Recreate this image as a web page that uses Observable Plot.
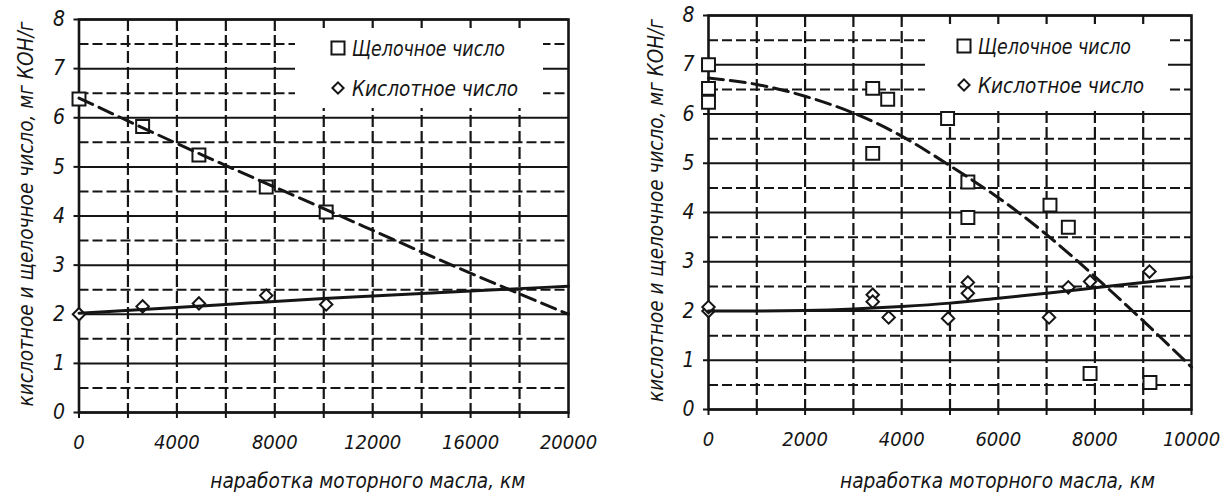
<!DOCTYPE html>
<html>
<head>
<meta charset="utf-8">
<script src="https://cdn.jsdelivr.net/npm/d3@7"></script>
<script src="https://cdn.jsdelivr.net/npm/@observablehq/plot@0.6"></script>
<style>
  html, body { margin: 0; padding: 0; background: #fff; }
  #wrap { position: relative; width: 1232px; height: 499px; overflow: hidden; background: #fff; }
  .panel { position: absolute; top: 0; }
  .legend { position: absolute; }
</style>
</head>
<body>
<div id="wrap"></div>
<script>
// ---------- data ----------
const seriesNames = ["Щелочное число", "Кислотное число"];
const xAxisTitle = "наработка моторного масла, км";
const yAxisTitle = "кислотное и щелочное число, мг КОН/г";

// left panel
const leftX = [0, 2600, 4900, 7650, 10100];
const leftAlkali = [6.38, 5.82, 5.24, 4.59, 4.08];
const leftAcid = [2.0, 2.16, 2.22, 2.38, 2.2];
const leftFitX = [0, 5000, 10000, 15000, 20000];
const leftAlkaliFit = [6.4, 5.25, 4.15, 3.05, 2.0];
const leftAcidFit = [2.02, 2.17, 2.32, 2.45, 2.57];
const leftXTicks = [0, 2000, 4000, 6000, 8000, 10000, 12000, 14000, 16000, 18000, 20000];
const leftXLabels = [0, 4000, 8000, 12000, 16000, 20000];

// right panel
const rightAlkaliX = [0, 0, 0, 3400, 3710, 3400, 4950, 5370, 5370, 7070, 7450, 7900, 9140];
const rightAlkali = [7.0, 6.52, 6.24, 6.52, 6.3, 5.2, 5.91, 4.62, 3.9, 4.15, 3.7, 0.73, 0.55];
const rightAcidX = [0, 0, 3400, 3400, 3730, 4960, 5370, 5370, 7050, 7450, 7900, 9130];
const rightAcid = [2.0, 2.08, 2.33, 2.19, 1.87, 1.85, 2.58, 2.36, 1.87, 2.48, 2.6, 2.8];
const rightFitX = [0, 1000, 2000, 3000, 4000, 5000, 6000, 7000, 8000, 9000, 10000];
const rightAlkaliFit = [6.73, 6.6, 6.36, 6.02, 5.55, 4.95, 4.3, 3.55, 2.7, 1.8, 0.86];
const rightAcidFit = [2.0, 2.0, 2.01, 2.04, 2.09, 2.16, 2.26, 2.36, 2.47, 2.58, 2.69];
const rightXTicks = [0, 1000, 2000, 3000, 4000, 5000, 6000, 7000, 8000, 9000, 10000];
const rightXLabels = [0, 2000, 4000, 6000, 8000, 10000];

const yIntTicks = [0, 1, 2, 3, 4, 5, 6, 7, 8];
const yHalfTicks = [0.5, 1.5, 2.5, 3.5, 4.5, 5.5, 6.5, 7.5];

// ---------- style ----------
const FONT = '"Liberation Sans Narrow", "DejaVu Sans Condensed", "Arial Narrow", sans-serif';
const INK = "#151515";

function zip(xs, ys) { return xs.map((x, i) => ({x, y: ys[i]})); }

function makePanel(cfg) {
  const xMax = cfg.xTicks[cfg.xTicks.length - 1];
  const inner = cfg.xTicks.filter(d => d > 0 && d < xMax);
  const plot = Plot.plot({
    width: 616,
    height: 499,
    marginLeft: cfg.m[0], marginRight: cfg.m[1], marginTop: cfg.m[2], marginBottom: cfg.m[3],
    x: {domain: [0, xMax], axis: null},
    y: {domain: [0, 8], axis: null},
    style: {fontFamily: FONT, color: INK, background: "#fff", overflow: "visible"},
    marks: [
      Plot.ruleY(yHalfTicks, {stroke: INK, strokeWidth: 2, strokeDasharray: "10,4"}),
      Plot.ruleY(yIntTicks, {stroke: INK, strokeWidth: 2}),
      Plot.ruleX(inner, {stroke: INK, strokeWidth: 2.2, strokeDasharray: "12,4"}),
      Plot.axisY(yIntTicks, {anchor: "left", tickSize: 5, tickPadding: 9, strokeWidth: 2,
        fontSize: 21, fontStyle: "italic", label: null}),
      Plot.axisX(cfg.xTicks, {anchor: "bottom", tickSize: 6, strokeWidth: 2, text: null, label: null}),
      Plot.axisX(cfg.xLabels, {anchor: "bottom", tickSize: 0, tickPadding: 22, fontSize: 20,
        fontStyle: "italic", tickFormat: d => String(d), label: null}),
      Plot.frame({stroke: INK, strokeWidth: 2.6}),
      Plot.dot(zip(cfg.alkX, cfg.alk), {x: "x", y: "y", symbol: "square", r: 7.3,
        fill: "#fff", stroke: INK, strokeWidth: 2}),
      Plot.dot(zip(cfg.acidX, cfg.acid), {x: "x", y: "y", symbol: "diamond2", r: 5.6,
        fill: "#fff", stroke: INK, strokeWidth: 2}),
      Plot.line(zip(cfg.fitX, cfg.alkFit), {x: "x", y: "y", stroke: INK, strokeWidth: 3,
        strokeDasharray: "15,7", curve: "natural"}),
      Plot.line(zip(cfg.fitX, cfg.acidFit), {x: "x", y: "y", stroke: INK, strokeWidth: 3,
        curve: "natural"}),
      Plot.text([yAxisTitle], {text: d => d, frameAnchor: "left", rotate: -90, dx: cfg.ylabDx, dy: -2,
        textAnchor: "middle", lineAnchor: "middle",
        fontSize: 21, fontStyle: "italic", fill: INK}),
      Plot.text([xAxisTitle], {text: d => d, frameAnchor: "bottom", dx: cfg.xlabDx, dy: cfg.xlabDy,
        textAnchor: "middle", lineAnchor: "middle",
        fontSize: 21, fontStyle: "italic", fill: INK})
    ]
  });
  plot.classList.add("panel");
  plot.style.left = cfg.left + "px";
  d3.select(plot).selectAll("text")
    .filter(function() { return this.textContent === yAxisTitle; })
    .attr("textLength", cfg.ylabLen).attr("lengthAdjust", "spacingAndGlyphs");
  d3.select(plot).selectAll("text")
    .filter(function() { return this.textContent === xAxisTitle; })
    .attr("textLength", 315).attr("lengthAdjust", "spacingAndGlyphs");
  return plot;
}

function makeLegend(box) {
  const svg = d3.create("svg")
    .attr("class", "legend")
    .attr("width", box.w).attr("height", box.h)
    .style("left", box.x + "px").style("top", box.y + "px")
    .style("font-family", FONT);
  svg.append("rect").attr("width", box.w).attr("height", box.h).attr("fill", "#fff");
  const rows = [
    {name: seriesNames[0], sym: d3.symbol(d3.symbolSquare, 170)()},
    {name: seriesNames[1], sym: d3.symbol(d3.symbolDiamond2, 80)()}
  ];
  rows.forEach((r, i) => {
    const cy = box.rows[i] - box.y;
    svg.append("path").attr("d", r.sym)
      .attr("transform", `translate(${box.sx - box.x},${cy})`)
      .attr("fill", "#fff").attr("stroke", INK).attr("stroke-width", 2);
    svg.append("text").text(r.name)
      .attr("x", box.tx - box.x).attr("y", cy).attr("dy", "0.36em")
      .attr("font-size", 21).attr("font-style", "italic").attr("fill", INK)
      .attr("textLength", i === 0 ? 153 : 166).attr("lengthAdjust", "spacingAndGlyphs");
  });
  return svg.node();
}

const wrap = document.getElementById("wrap");
wrap.appendChild(makePanel({
  left: 0, m: [78.5, 48, 19, 87],
  xTicks: leftXTicks, xLabels: leftXLabels,
  alkX: leftX, alk: leftAlkali, acidX: leftX, acid: leftAcid,
  fitX: leftFitX, alkFit: leftAlkaliFit, acidFit: leftAcidFit,
  ylabDx: -53, ylabLen: 385, xlabDx: 44, xlabDy: 69
}));
wrap.appendChild(makePanel({
  left: 616, m: [92, 41, 15, 90],
  xTicks: rightXTicks, xLabels: rightXLabels,
  alkX: rightAlkaliX, alk: rightAlkali, acidX: rightAcidX, acid: rightAcid,
  fitX: rightFitX, alkFit: rightAlkaliFit, acidFit: rightAcidFit,
  ylabDx: -52, ylabLen: 383, xlabDx: 47.5, xlabDy: 72
}));
wrap.appendChild(makeLegend({x: 295, y: 28, w: 248, h: 80, rows: [48, 88], sx: 338, tx: 352}));
wrap.appendChild(makeLegend({x: 925, y: 24, w: 243, h: 83, rows: [46, 85], sx: 964, tx: 978}));
</script>
</body>
</html>
